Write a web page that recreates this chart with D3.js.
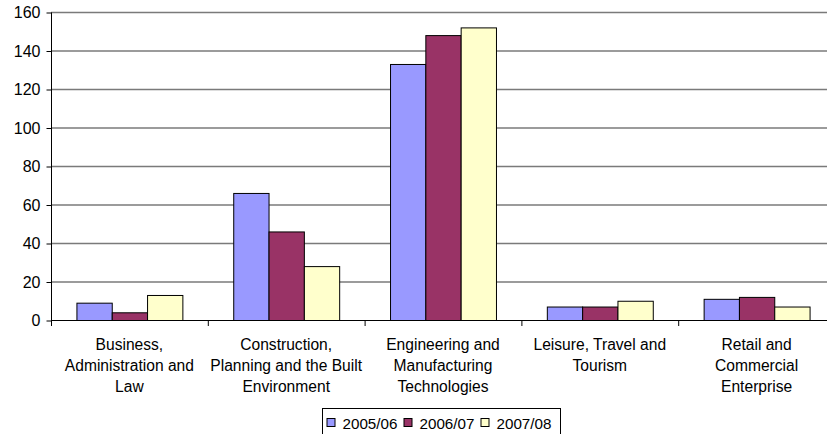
<!DOCTYPE html>
<html><head><meta charset="utf-8">
<script src="https://cdn.jsdelivr.net/npm/d3@7"></script>
<style>body{margin:0;background:#fff}svg{display:block}text{font-family:"Liberation Sans",Arial,sans-serif}</style>
</head><body><svg id="c" width="827" height="434"></svg>
<script>
const categories = [
  ["Business,", "Administration and", "Law"],
  ["Construction,", "Planning and the Built", "Environment"],
  ["Engineering and", "Manufacturing", "Technologies"],
  ["Leisure, Travel and", "Tourism"],
  ["Retail and", "Commercial", "Enterprise"]
];
const seriesNames = ["2005/06", "2006/07", "2007/08"];
const s2005 = [9, 66, 133, 7, 11];
const s2006 = [4, 46, 148, 7, 12];
const s2007 = [13, 28, 152, 10, 7];
const yTicks = [0, 20, 40, 60, 80, 100, 120, 140, 160];
const colors = ["#9999FF", "#993366", "#FFFFCC"];

const series = [s2005, s2006, s2007];
const svg = d3.select("#c");
const L = 51, R = 835, T = 12, B = 320;
const x = d3.scaleBand().domain(d3.range(categories.length)).range([L, R]);
const x1 = d3.scaleBand().domain(d3.range(series.length)).range([0, x.bandwidth()]).paddingOuter(0.72).paddingInner(0);
const y = d3.scaleLinear().domain([0, 160]).range([B, T]);

// gridlines
svg.append("g").selectAll("line").data(yTicks.filter(d => d > 0)).join("line")
  .attr("x1", L).attr("x2", R).attr("y1", d => y(d) + 0.5).attr("y2", d => y(d) + 0.5)
  .attr("stroke", "#7a7a7a").attr("stroke-width", 1.5);

// bars
const g = svg.append("g");
series.forEach((s, si) => {
  g.selectAll(null).data(s).join("rect")
    .attr("x", (d, i) => x(i) + x1(si) + 0.5)
    .attr("y", d => y(d) + 0.5)
    .attr("width", x1.bandwidth())
    .attr("height", d => B - y(d))
    .attr("fill", colors[si]).attr("stroke", "#000").attr("stroke-width", 1);
});

// y axis
const ya = svg.append("g").attr("transform", `translate(${L + 0.5},0.5)`)
  .call(d3.axisLeft(y).tickValues(yTicks).tickSize(5).tickPadding(6));
ya.select(".domain").attr("stroke", "#000").attr("d", `M0,${T}V${B}`);
ya.selectAll(".tick line").attr("stroke", "#000");
ya.selectAll(".tick text").attr("font-size", 16).attr("fill", "#000").attr("font-family", "Liberation Sans, Arial, sans-serif");

// x axis
svg.append("line").attr("x1", L).attr("x2", R).attr("y1", B + 0.5).attr("y2", B + 0.5).attr("stroke", "#000");
svg.append("g").selectAll("line").data(d3.range(categories.length + 1)).join("line")
  .attr("x1", i => (i < categories.length ? x(i) : R) + 0.5).attr("x2", i => (i < categories.length ? x(i) : R) + 0.5)
  .attr("y1", B).attr("y2", B + 6).attr("stroke", "#000");

// category labels
const lab = svg.append("g");
categories.forEach((lines, i) => {
  const t = lab.append("text").attr("x", x(i) + x.bandwidth() / 2).attr("text-anchor", "middle")
    .attr("font-size", 15.6).attr("fill", "#000");
  lines.forEach((ln, j) => t.append("tspan").attr("x", x(i) + x.bandwidth() / 2).attr("y", 350 + j * 21).text(ln));
});

// legend
const lg = svg.append("g").attr("transform", "translate(322.5,408.5)");
lg.append("rect").attr("width", 238).attr("height", 28).attr("fill", "#fff").attr("stroke", "#000");
seriesNames.forEach((n, i) => {
  const gx = 4.5 + i * 77;
  lg.append("rect").attr("x", gx).attr("y", 10).attr("width", 8).attr("height", 8)
    .attr("fill", colors[i]).attr("stroke", "#000");
  lg.append("text").attr("x", gx + 15.5).attr("y", 20.5).attr("font-size", 15.2).attr("fill", "#000").text(n);
});
</script></body></html>
